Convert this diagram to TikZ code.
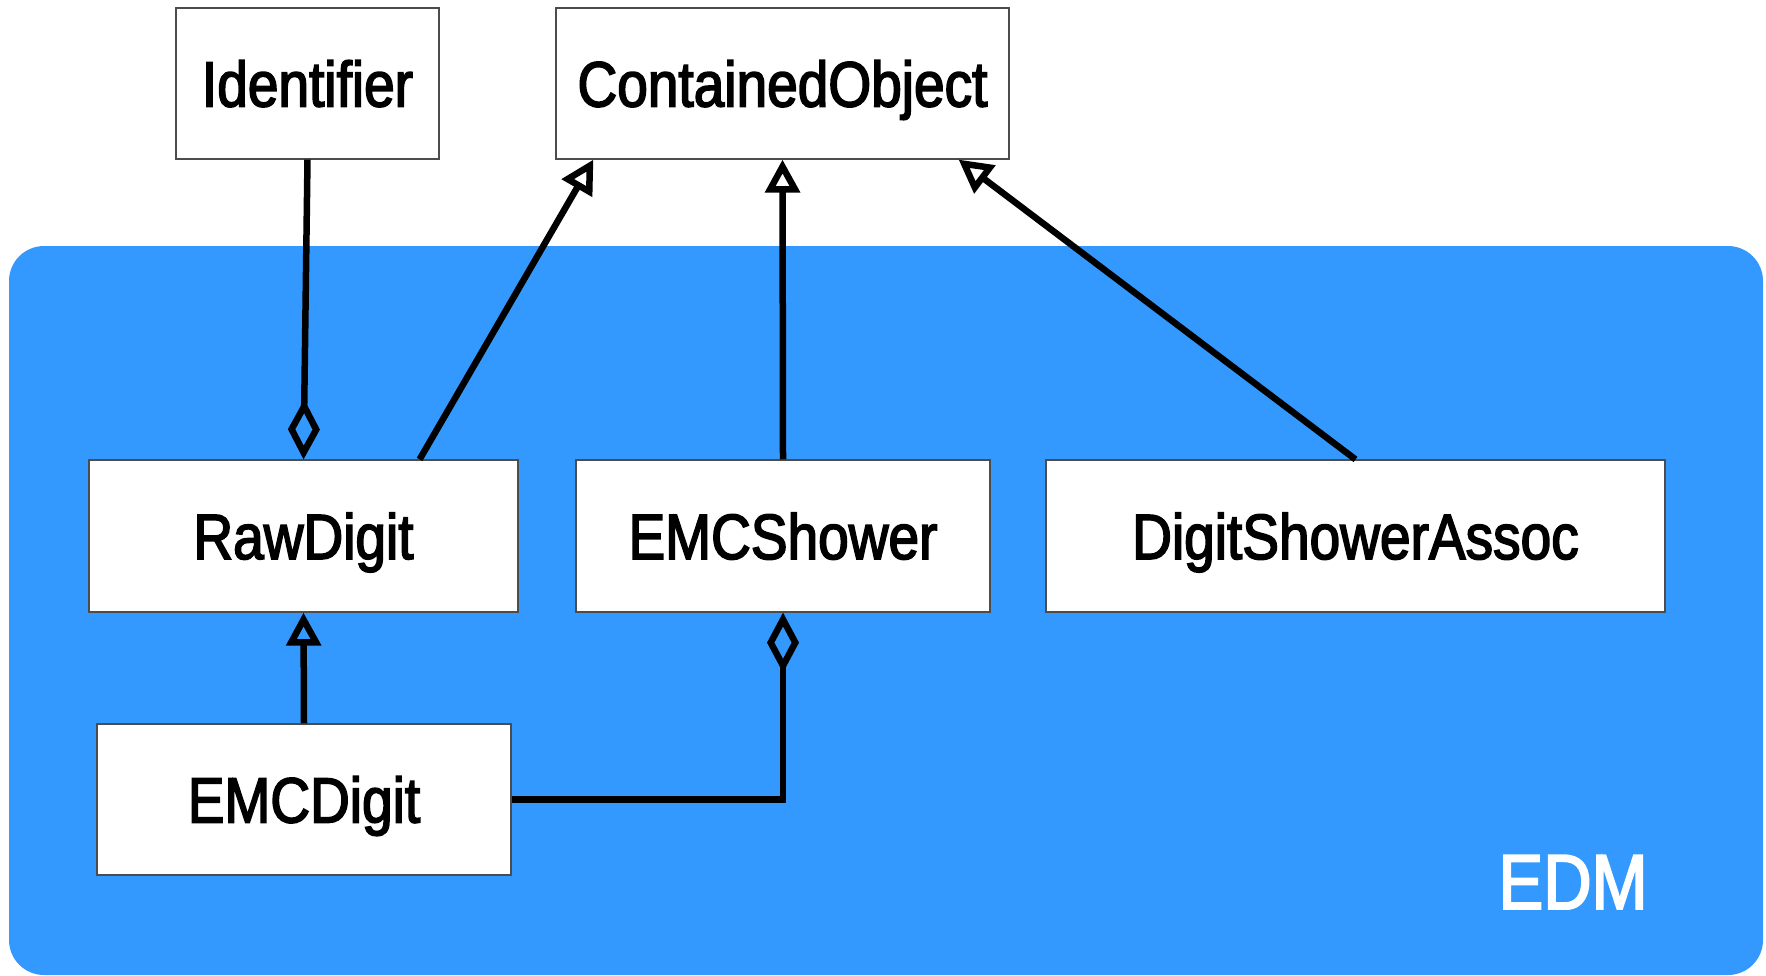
\documentclass[tikz,border=0pt]{standalone}
\usepackage{fontspec}
\setmainfont{Liberation Sans}[FakeStretch=0.86,FakeBold=2.5]
\usetikzlibrary{arrows.meta}
\definecolor{edmblue}{HTML}{3399FF}
\begin{document}
\begin{tikzpicture}[x=1pt,y=-1pt,
            class node/.style={draw=black!70,line width=1.2pt,fill=white,inner sep=0pt,
                font=\fontsize{64}{70}\selectfont,text height=46pt,text depth=0pt},
            inherit/.style={-{Triangle[open,length=33pt,width=34pt]},line width=6.5pt},
            aggr/.style={-{Diamond[open,length=60pt,width=32pt]},line width=6.5pt}]

        \useasboundingbox (0,0) rectangle (1766,975);
        \fill[edmblue,rounded corners=35pt] (9,246) rectangle (1763,975);
        \node[white,font=\fontsize{78}{90}\selectfont,text height=56pt,text depth=0pt] (edm) at (1573,881) {EDM};

        % Define vertices
        \node[class node,minimum width=263pt,minimum height=151pt] (ident) at (307.5,83.5) {Identifier};
        \node[class node,minimum width=453pt,minimum height=151pt] (cobj) at (782.5,83.5) {ContainedObject};
        \node[class node,minimum width=429pt,minimum height=152pt] (raw) at (303.5,536) {RawDigit};
        \node[class node,minimum width=414pt,minimum height=152pt] (shower) at (783,536) {EMCShower};
        \node[class node,minimum width=619pt,minimum height=152pt] (assoc) at (1355.5,536) {DigitShowerAssoc};
        \node[class node,minimum width=414pt,minimum height=151pt] (emcdigit) at (304,799.5) {EMCDigit};

        % Draw edges
        \path
            (ident.south) edge[aggr] (raw.north)
            ([xshift=-99pt]raw.north east) edge[inherit] ([xshift=38pt]cobj.south west)
            (shower.north) edge[inherit] (cobj.south)
            (assoc.north) edge[inherit] ([xshift=-51pt]cobj.south east)
            (emcdigit.north) edge[inherit] (raw.south);
        \draw[aggr] (emcdigit.east) -| (shower.south);

        \end{tikzpicture}
\end{document}
